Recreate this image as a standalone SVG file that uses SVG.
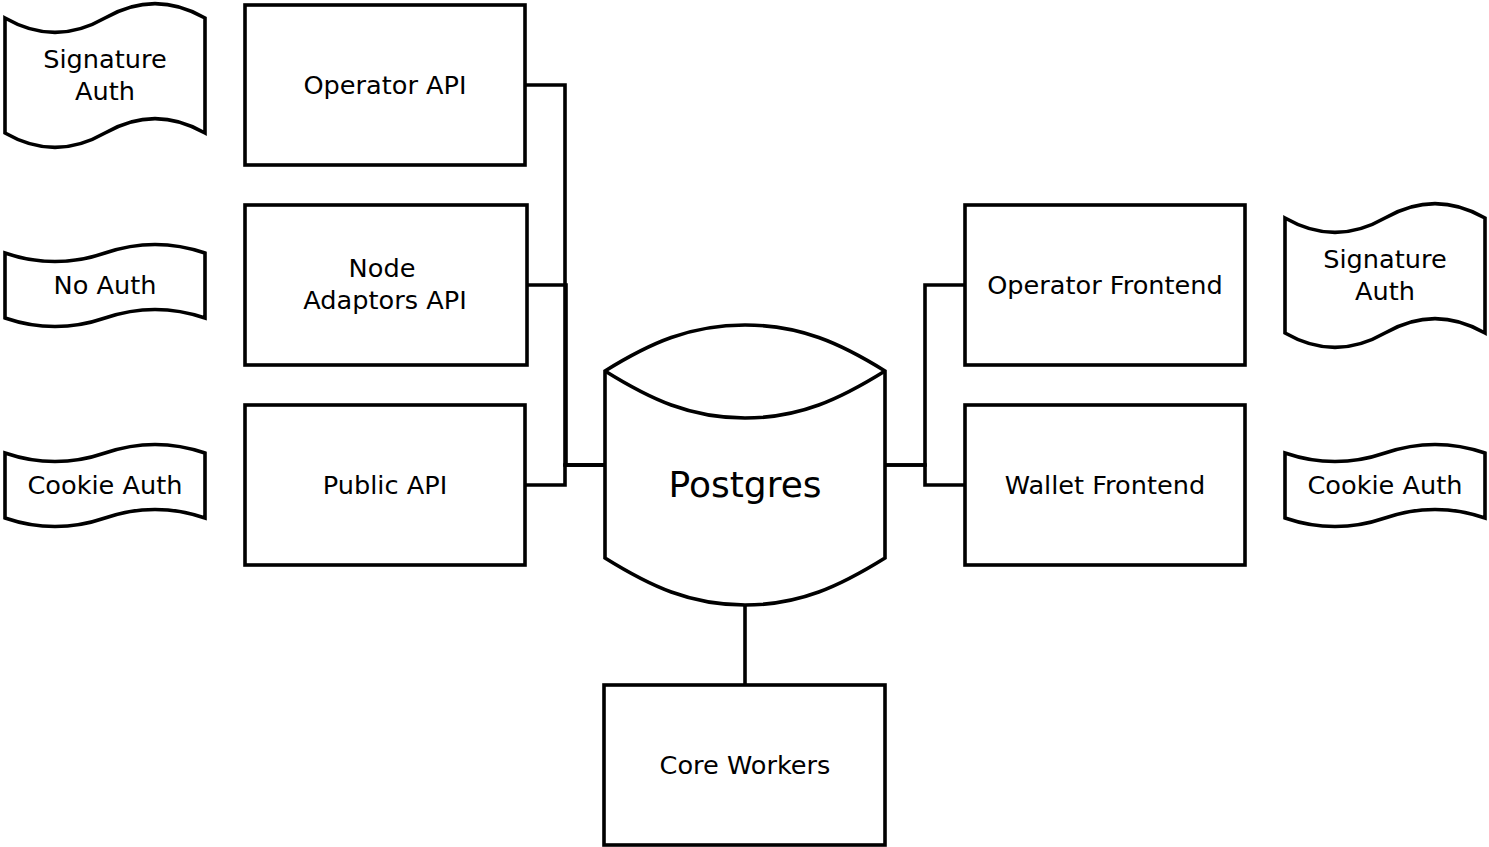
<svg xmlns="http://www.w3.org/2000/svg" width="1489" height="847" viewBox="0 0 1489 847">
<style>
.s{fill:#fff;stroke:#000;stroke-width:3.6;stroke-linejoin:miter}
.c{fill:none;stroke:#000;stroke-width:3.6}
text{font-family:"DejaVu Sans",sans-serif;font-size:25.6px;fill:#000;text-anchor:middle}
.big{font-size:36px}
</style>
<rect width="1489" height="847" fill="#fff"/>
<g id="connectors">
<path class="c" d="M525,85 H565 V465 H605"/>
<path class="c" d="M527,285 H566 V465 H605"/>
<path class="c" d="M525,485 H565 V465 H605"/>
<path class="c" d="M885,465 H925 V285 H965"/>
<path class="c" d="M885,465 H925 V485 H965"/>
<path class="c" d="M745,605 V685"/>
</g>
<g id="sig-auth-left">
<path class="s" d="M5,18 Q55,46.8 105,18 Q155,-10.8 205,18 L205,133 Q155,104.2 105,133 Q55,161.8 5,133 Z"/>
<text x="105" y="68">Signature</text>
<text x="105" y="100">Auth</text>
</g>
<g id="no-auth">
<path class="s" d="M5,253 Q55,270.1 105,253 Q155,235.9 205,253 L205,318 Q155,300.9 105,318 Q55,335.1 5,318 Z"/>
<text x="105" y="294">No Auth</text>
</g>
<g id="cookie-auth-left">
<path class="s" d="M5,453 Q55,470.1 105,453 Q155,435.9 205,453 L205,518 Q155,500.9 105,518 Q55,535.1 5,518 Z"/>
<text x="105" y="494">Cookie Auth</text>
</g>
<g id="operator-api">
<rect class="s" x="245" y="5" width="280" height="160"/>
<text x="385" y="93.5">Operator API</text>
</g>
<g id="node-adaptors-api">
<rect class="s" x="245" y="205" width="282" height="160"/>
<text x="382" y="277">Node</text>
<text x="385" y="309">Adaptors API</text>
</g>
<g id="public-api">
<rect class="s" x="245" y="405" width="280" height="160"/>
<text x="385" y="493.5">Public API</text>
</g>
<g id="postgres">
<path class="s" d="M605,371 C650,343 690,325 745,325 C800,325 840,343 885,371 L885,558 C840,586 800,605 745,605 C690,605 650,586 605,558 Z"/>
<path class="c" d="M605,371 C650,399 690,418 745,418 C800,418 840,399 885,371"/>
<text class="big" x="745" y="497">Postgres</text>
</g>
<g id="core-workers">
<rect class="s" x="604" y="685" width="281" height="160"/>
<text x="745" y="773.5">Core Workers</text>
</g>
<g id="operator-frontend">
<rect class="s" x="965" y="205" width="280" height="160"/>
<text x="1105" y="293.5">Operator Frontend</text>
</g>
<g id="wallet-frontend">
<rect class="s" x="965" y="405" width="280" height="160"/>
<text x="1105" y="493.5">Wallet Frontend</text>
</g>
<g id="sig-auth-right">
<path class="s" d="M1285,218 Q1335,246.8 1385,218 Q1435,189.2 1485,218 L1485,333 Q1435,304.2 1385,333 Q1335,361.8 1285,333 Z"/>
<text x="1385" y="268">Signature</text>
<text x="1385" y="300">Auth</text>
</g>
<g id="cookie-auth-right">
<path class="s" d="M1285,453 Q1335,470.1 1385,453 Q1435,435.9 1485,453 L1485,518 Q1435,500.9 1385,518 Q1335,535.1 1285,518 Z"/>
<text x="1385" y="494">Cookie Auth</text>
</g>
</svg>
